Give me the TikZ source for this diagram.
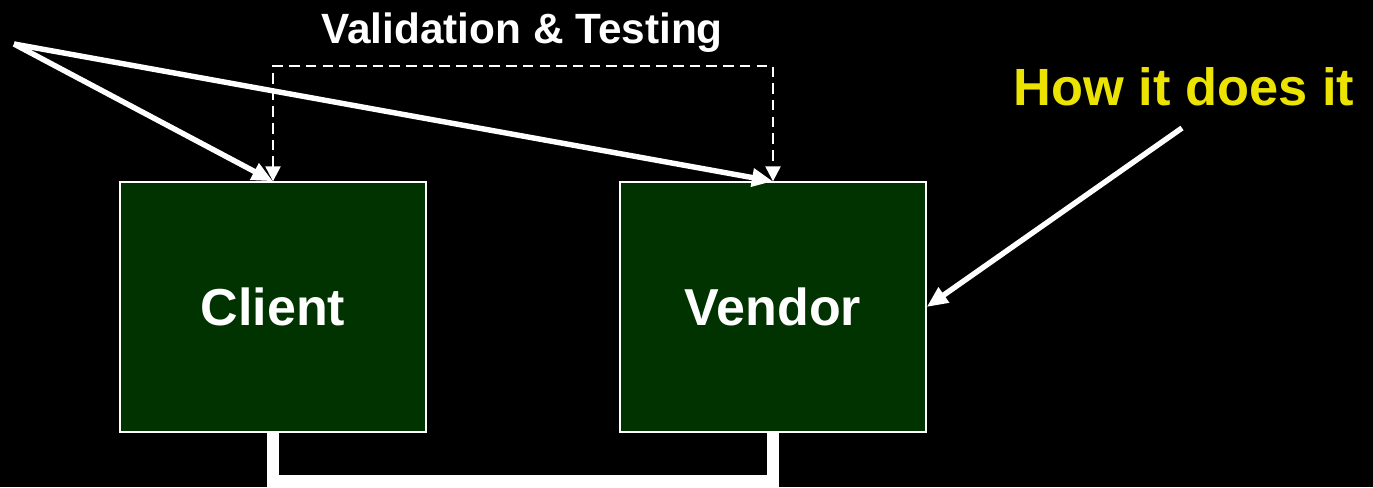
\documentclass[tikz,border=0pt]{standalone}
\usepackage{fontspec}
\setmainfont{Liberation Sans}
\usetikzlibrary{arrows.meta}
\definecolor{howyellow}{RGB}{236,228,0}
\definecolor{boxgreen}{RGB}{0,51,0}

\begin{document}
\begin{tikzpicture}[x=0.02cm, y=-0.02cm,
    party/.style={draw=white, line width=0.8pt, fill=boxgreen, minimum width=6.12cm, minimum height=5cm, text=white, font=\bfseries\fontsize{29.6}{34}\selectfont},
    pointer/.style={white, line width=3.1pt, -{Triangle[length=12pt, width=10pt]}},
    testing/.style={white, line width=1.3pt, dash pattern=on 6pt off 3.5pt, {Triangle[length=8.5pt, width=8.5pt]}-{Triangle[length=8.5pt, width=8.5pt]}}]
    \fill[black] (0,0) rectangle (1373,487);
    \useasboundingbox (0,0) rectangle (1373,487);

    \node[party] (client) at (273,307) {Client};
    \node[party] (vendor) at (773,307) {Vendor};
    \node[anchor=base, text=white, font=\bfseries\fontsize{24.1}{28}\selectfont] (valid) at (522,43) {Validation \& Testing};
    \node[anchor=base, text=howyellow, font=\bfseries\fontsize{29.8}{34}\selectfont] (how) at (1184,105) {How it does it};
    \coordinate (src) at (14,44);
    \coordinate (tail) at (1182,128);

    \draw[testing] (client.north) -- ++(0,-115) -| (vendor.north);
    \draw[pointer] (src) -- (client.north);
    \draw[pointer] (src) -- (vendor.north);
    \draw[pointer] (tail) -- (vendor.east);
    \draw[white, line width=6.8pt] (client.south) -- ++(0,48) -| (vendor.south);
\end{tikzpicture}
\end{document}
